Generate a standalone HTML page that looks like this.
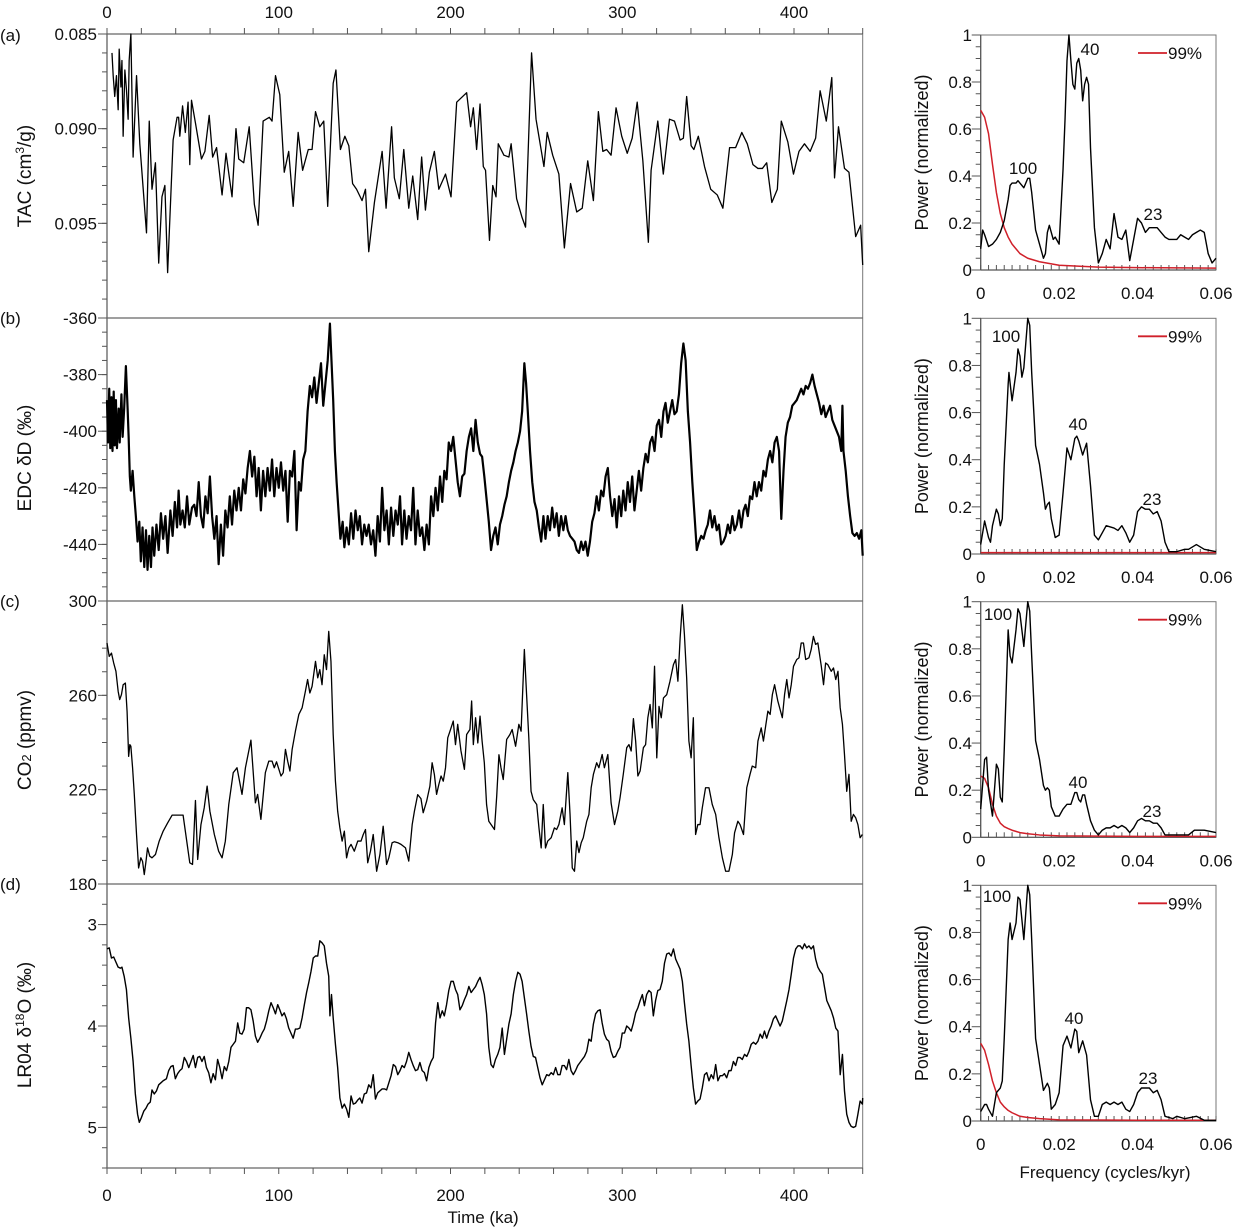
<!DOCTYPE html>
<html><head><meta charset="utf-8">
<style>
html,body{margin:0;padding:0;background:#fff;}
svg{display:block;font-family:"Liberation Sans",Arial,sans-serif;}
</style></head>
<body>
<svg id="chart" width="1236" height="1231" viewBox="0 0 1236 1231" xmlns="http://www.w3.org/2000/svg"></svg>
<script>
// ---------- DATA: time series (time in ka) ----------
const tacTime=[2.9,3.6,4.5,5.5,6.5,7.1,8.1,8.7,9.4,10.4,11.3,12.3,12.9,13.9,15.2,17.2,19.1,23.0,24.6,26.2,28.2,30.1,32.0,33.7,35.3,38.5,40.8,41.7,42.4,44.0,45.6,47.2,48.2,49.2,51.5,55.0,57.0,59.5,61.5,63.8,67.0,69.3,72.8,75.1,76.7,79.6,82.8,85.8,88.0,90.9,94.5,96.1,98.1,100.6,103.2,105.8,108.4,111.3,113.9,117.2,119.4,121.4,123.9,126.2,128.5,131.7,133.3,135.9,138.5,140.8,143.0,145.3,148.5,150.5,152.4,155.7,160.2,162.5,165.7,167.3,170.2,172.8,175.7,178.0,180.9,183.2,185.4,187.7,190.6,193.2,197.1,200.3,203.6,209.4,211.7,213.3,215.2,217.2,219.1,220.4,222.7,224.6,226.5,227.8,231.1,234.0,235.3,238.5,241.7,243.7,247.2,249.8,254.4,256.3,259.5,263.1,266.3,269.9,273.5,276.7,279.9,283.2,286.1,288.7,290.9,293.5,296.4,299.7,302.9,305.8,308.7,312.0,315.2,316.8,320.7,323.9,327.5,330.4,333.7,335.6,337.5,340.1,341.7,344.3,347.9,351.5,355.3,358.6,362.5,366.0,369.6,372.8,376.1,379.0,381.6,384.1,387.1,390.3,392.6,396.4,399.7,402.9,406.1,409.4,412.6,415.2,418.8,422.0,423.6,425.9,429.4,432.0,435.9,438.8,440];
// TAC values in units of 1e-3 cm3/g
const tacValue=[86.0,87.2,88.3,87.2,89.0,85.8,87.8,86.4,90.4,86.9,87.9,89.5,86.4,85.0,91.5,87.2,90.8,95.5,89.6,93.2,91.8,97.1,93.6,93.0,97.6,90.6,89.4,89.4,90.4,88.8,90.2,88.6,91.9,88.5,89.7,91.6,91.2,89.3,91.5,91.0,93.5,91.3,93.6,90.0,91.6,91.8,89.9,94.0,95.1,89.6,89.4,89.6,87.2,88.2,92.3,91.2,94.1,90.2,92.2,91.1,91.1,89.1,89.9,89.6,94.1,87.6,86.9,91.1,90.4,90.9,92.9,93.2,93.8,93.2,96.5,93.9,91.2,94.2,89.9,92.6,93.7,91.1,94.2,92.5,94.8,91.5,94.3,92.3,91.2,93.2,92.4,93.6,88.6,88.1,89.9,88.9,91.1,88.7,92.0,92.2,95.9,93.0,93.6,90.8,91.4,91.5,90.8,93.7,94.7,95.2,86.0,89.5,92.0,90.2,91.4,92.4,96.3,92.9,94.4,94.2,91.7,93.8,89.1,91.2,91.1,91.4,88.9,90.4,91.3,90.5,88.6,91.7,96.0,92.2,89.6,92.4,89.5,89.6,90.6,90.5,88.3,90.9,91.1,90.4,92.0,93.2,93.5,94.2,91.0,91.0,90.2,90.8,91.9,92.1,92.1,91.8,93.9,93.2,89.6,90.7,92.4,91.2,90.8,91.2,90.5,88.0,89.6,87.3,92.6,89.9,92.1,92.3,95.7,95.1,97.2];

const edcTime=[0,0.6,1.3,1.9,2.6,3.2,3.9,4.5,5.2,5.8,6.8,7.4,8.4,9.1,10.0,11.0,12.0,12.6,13.3,13.9,14.9,15.9,16.8,17.8,18.8,19.7,20.7,21.7,22.7,23.6,24.6,25.6,26.5,27.5,28.8,30.1,31.4,32.7,34.0,35.3,36.9,38.2,39.5,40.8,41.7,42.7,44.0,45.3,46.6,47.9,49.5,50.8,52.1,53.4,54.7,56.0,57.3,58.6,59.9,61.2,62.5,63.8,65.0,66.3,67.6,68.9,70.2,71.5,72.8,74.1,75.4,76.7,78.0,79.3,80.6,81.9,83.2,84.5,85.8,87.1,88.3,89.6,90.9,92.2,93.5,94.8,96.1,97.4,98.7,100.0,101.3,102.6,103.9,105.2,106.5,107.8,109.1,110.4,111.7,112.9,114.2,115.5,116.8,118.1,119.4,120.7,122.0,123.3,124.6,125.9,127.2,128.5,129.8,130.7,131.7,132.7,133.7,135.0,135.9,137.2,138.2,139.5,140.8,142.1,143.4,144.7,146.0,147.2,148.5,149.8,151.1,152.4,153.7,155.0,156.3,157.6,158.9,160.2,161.5,162.8,164.1,165.4,166.7,168.0,169.3,170.6,171.8,173.1,174.4,175.7,177.0,178.3,179.6,180.9,182.2,183.5,184.8,186.1,187.4,188.7,190.0,191.3,192.6,193.9,195.2,196.4,197.7,199.0,200.3,201.6,202.9,204.2,205.5,206.8,208.1,209.4,210.7,212.0,213.3,214.6,215.9,217.2,218.4,219.7,221.0,222.3,223.6,224.9,226.2,227.5,228.8,230.1,231.4,232.7,234.0,235.3,236.6,237.9,239.2,240.5,241.7,243.0,244.0,245.0,246.3,247.6,248.9,250.2,251.5,252.8,254.1,255.3,256.6,257.9,259.2,260.5,261.8,263.1,264.4,265.7,267.0,268.3,269.6,270.9,272.2,273.5,274.8,276.1,277.3,278.6,279.9,281.2,282.5,283.8,285.1,286.4,287.7,289.0,290.3,291.6,292.9,294.2,295.5,296.8,298.1,299.4,300.6,301.9,303.2,304.5,305.8,307.1,308.4,309.7,311.0,312.3,313.6,314.9,316.2,317.5,318.8,320.1,321.4,322.7,324.0,325.2,326.5,327.8,329.1,330.4,331.7,333.0,334.3,335.6,336.9,338.2,339.5,340.8,342.1,343.4,344.7,346.0,347.3,348.6,349.8,351.1,352.4,353.7,355.0,356.3,357.6,358.9,360.2,361.5,362.8,364.1,365.4,366.7,368.0,369.3,370.6,371.8,373.1,374.4,375.7,377.0,378.3,379.6,380.9,382.2,383.5,384.8,386.1,387.4,388.7,390.0,391.3,392.6,393.9,395.1,396.4,397.7,399.0,400.3,401.6,402.9,404.2,405.5,406.8,408.1,409.4,410.7,412.0,413.3,414.6,415.9,417.2,418.4,419.7,421.0,422.3,423.6,424.9,426.2,427.5,428.2,428.8,430.1,431.4,432.7,434.0,435.3,436.6,437.9,439.2,440];
const edcValue=[-389,-404,-385,-406,-388,-407,-386,-405,-389,-406,-392,-404,-387,-402,-392,-377,-392,-402,-416,-421,-414,-423,-430,-439,-432,-446,-434,-448,-435,-449,-437,-448,-434,-444,-433,-442,-429,-438,-430,-443,-428,-437,-425,-434,-421,-433,-428,-434,-423,-433,-427,-426,-430,-418,-430,-434,-423,-429,-416,-430,-438,-430,-447,-433,-444,-428,-434,-423,-433,-421,-428,-420,-428,-417,-422,-413,-407,-416,-409,-423,-413,-428,-414,-423,-413,-421,-410,-423,-413,-420,-411,-421,-414,-432,-414,-416,-407,-435,-418,-421,-410,-407,-393,-384,-388,-381,-390,-383,-376,-391,-383,-375,-362,-375,-389,-407,-418,-430,-438,-432,-441,-434,-440,-429,-438,-428,-435,-430,-440,-433,-437,-433,-440,-435,-444,-430,-439,-420,-435,-428,-440,-427,-437,-428,-433,-423,-440,-428,-438,-430,-435,-420,-440,-428,-437,-434,-442,-433,-440,-423,-430,-420,-428,-416,-425,-414,-417,-404,-407,-402,-410,-418,-423,-416,-415,-407,-402,-399,-407,-396,-404,-408,-409,-416,-424,-432,-442,-437,-434,-440,-433,-430,-426,-423,-418,-414,-411,-407,-404,-400,-393,-376,-383,-393,-407,-418,-425,-428,-434,-439,-430,-438,-430,-435,-427,-434,-429,-437,-430,-435,-430,-435,-437,-438,-439,-442,-443,-439,-442,-439,-444,-439,-432,-429,-423,-428,-421,-423,-416,-413,-423,-430,-424,-434,-423,-430,-421,-428,-418,-425,-416,-428,-421,-414,-421,-413,-408,-411,-404,-402,-407,-398,-396,-402,-393,-390,-397,-393,-389,-394,-393,-387,-376,-369,-375,-393,-404,-418,-430,-442,-439,-437,-438,-435,-433,-428,-434,-430,-435,-433,-440,-439,-437,-433,-436,-430,-435,-433,-428,-434,-428,-426,-430,-423,-424,-418,-423,-418,-421,-414,-416,-410,-407,-411,-404,-402,-407,-431,-414,-402,-397,-395,-391,-390,-389,-387,-385,-387,-384,-385,-383,-380,-384,-387,-390,-394,-391,-395,-393,-391,-396,-398,-400,-402,-407,-391,-407,-414,-423,-430,-436,-437,-436,-438,-435,-444];

const co2Time=[0,1.3,2.6,3.9,5.2,6.5,7.4,8.4,9.4,10.7,11.7,12.6,13.3,13.9,14.9,15.9,17.2,18.4,19.7,20.7,21.7,22.7,23.6,24.9,26.2,28.2,30.4,32.7,35.3,37.9,41.7,44.3,48.2,49.8,51.5,52.8,54.7,56.6,58.3,59.9,62.5,65.0,67.0,68.9,70.9,73.5,75.7,78.6,80.6,83.8,86.4,87.7,89.6,92.2,94.2,96.1,97.4,98.7,101.3,102.6,103.9,105.2,106.5,107.8,109.7,111.7,113.6,115.5,116.8,118.1,119.4,121.4,122.7,123.9,125.2,126.5,127.8,129.1,130.4,131.7,133.0,134.3,135.6,136.9,138.2,139.5,140.8,142.1,144.0,146.0,147.9,149.2,150.5,151.8,153.4,155.0,157.0,158.9,160.8,162.8,164.1,166.0,167.3,169.3,171.2,173.8,175.7,177.7,179.0,180.9,182.8,184.1,186.1,188.0,189.3,190.6,191.9,193.2,194.5,195.8,197.1,198.4,199.7,201.6,202.9,204.2,206.1,208.1,209.4,211.3,212.3,213.3,214.6,215.9,217.2,218.4,219.7,221.0,222.3,224.3,225.6,226.9,228.2,229.4,230.7,232.7,234.6,235.9,237.9,239.8,241.1,243.0,244.3,245.6,246.9,248.2,250.2,251.5,252.8,254.0,255.3,256.6,258.6,260.5,261.8,263.1,265.0,266.3,268.3,269.6,270.9,272.2,273.5,274.8,276.1,277.3,279.3,280.6,281.9,283.2,285.1,286.4,288.3,289.6,291.6,293.5,295.5,297.4,298.7,300.6,302.6,303.9,305.2,306.5,307.8,309.1,310.4,312.3,313.6,314.9,316.2,317.5,318.8,320.1,321.4,322.7,324.0,325.9,327.8,329.8,331.1,332.4,333.7,335.0,336.2,337.5,338.8,340.1,341.4,342.7,344.0,345.3,346.6,348.5,350.5,352.4,354.4,356.3,358.3,360.2,362.1,364.1,365.4,367.3,368.6,370.6,372.5,374.4,375.7,377.7,379.0,380.9,382.2,383.5,384.8,386.1,387.4,388.7,390.6,393.2,394.5,395.8,397.1,398.4,399.7,401.6,402.9,404.2,405.5,406.8,408.7,410.0,411.3,412.6,413.9,415.9,417.2,418.4,419.7,421.7,423.0,424.3,425.6,426.9,428.2,429.4,430.7,432.0,433.3,434.6,435.9,437.2,438.5,439.8];
const co2Value=[282.2,276.5,277.9,273.7,270.2,261.7,258.2,260.3,264.5,265.2,253.1,234.1,239.1,238.4,229.2,217.9,200.9,186.8,191.1,189.6,184.0,189.6,195.3,191.8,191.1,192.5,198.2,202.4,205.9,209.2,209.2,209.2,189.0,188.3,215.4,190.4,205.2,212.3,221.5,210.9,201.0,193.9,191.1,198.2,213.7,227.2,229.3,218.0,229.3,241.0,214.4,218.0,207.4,227.2,232.1,232.1,229.3,231.8,225.8,227.2,237.1,232.1,227.9,237.1,244.8,251.9,254.7,261.7,266.7,261.0,263.8,274.4,267.4,270.9,264.5,277.2,270.9,287.1,274.4,243.4,223.6,210.9,203.8,198.2,202.4,191.1,195.3,196.8,193.9,198.2,198.2,201.0,203.1,189.0,193.9,201.0,185.4,192.5,204.5,188.3,191.1,197.5,197.9,197.5,196.8,195.3,189.7,205.2,210.9,217.9,216.2,210.2,215.1,221.5,231.4,226.5,218.0,222.2,225.8,223.6,229.3,242.0,244.8,249.1,239.1,247.7,236.4,228.6,243.4,245.5,257.6,239.1,250.5,239.8,251.2,240.6,231.4,213.7,206.6,204.5,203.1,217.2,234.8,229.3,224.3,241.3,243.4,245.5,238.4,247.7,244.8,279.4,260.3,241.9,219.3,215.8,213.7,203.8,195.3,213.7,195.3,198.2,199.6,203.8,203.1,205.2,212.3,205.2,227.2,209.5,186.8,185.4,198.2,193.3,197.5,199.6,206.6,209.5,220.8,226.5,231.4,229.3,234.9,229.3,234.9,214.4,205.2,210.9,216.5,226.5,237.8,239.1,236.4,250.1,240.6,225.8,227.9,237.8,239.1,250.5,256.1,246.2,272.3,233.5,255.3,250.5,258.9,260.3,266.0,273.0,275.2,266.0,284.3,298.4,285.7,267.4,240.6,233.5,250.5,201.0,205.2,205.2,212.3,220.8,220.8,213.7,209.5,199.6,191.1,185.4,185.4,192.5,201.7,206.6,205.2,201.0,220.8,226.5,230.0,229.3,240.6,246.2,240.6,247.0,253.3,251.9,260.3,264.5,257.5,250.5,260.3,266.7,258.9,264.5,272.3,275.2,275.9,282.2,282.2,275.2,275.9,279.4,285.0,281.6,282.2,272.3,264.5,273.7,273.0,270.2,271.6,266.7,270.2,254.7,247.7,234.9,219.3,226.5,206.6,209.5,208.1,205.2,199.6,201.0];

const lr04Time=[0,1.3,2.6,3.9,5.2,6.5,7.8,8.7,10.0,11.3,12.6,13.9,15.2,16.5,17.8,18.8,20.1,21.4,22.7,23.9,25.2,26.2,27.5,28.8,30.1,31.4,32.7,34.6,35.9,37.2,38.5,39.8,41.1,42.4,43.7,45.0,46.3,47.6,48.9,50.2,51.5,52.8,54.0,55.3,56.6,57.9,59.2,60.5,61.8,63.1,64.4,65.7,67.0,68.3,69.6,70.9,72.2,73.5,74.8,76.1,77.3,78.6,79.9,81.2,82.5,83.8,85.1,86.4,87.7,89.0,90.3,91.6,92.9,94.2,95.5,96.8,98.1,99.4,100.6,101.9,103.2,104.5,105.8,107.1,108.4,109.7,111.0,112.3,113.6,114.9,116.2,117.5,118.8,120.1,121.4,122.7,123.9,125.2,126.5,127.8,129.1,129.8,130.7,131.7,133.0,134.3,135.6,136.9,138.2,139.5,140.8,142.1,143.4,144.7,146.0,147.2,148.5,149.8,151.1,152.4,153.7,155.0,156.3,157.6,158.9,160.2,161.5,162.8,164.1,165.4,166.7,168.0,169.3,170.6,171.8,173.1,174.4,175.7,177.0,178.3,179.6,180.9,182.2,183.5,184.8,186.1,187.4,188.7,190.0,191.3,192.6,193.9,195.2,196.4,197.7,199.0,200.3,201.6,202.9,204.2,205.5,206.8,208.1,209.4,210.7,212.0,213.3,214.6,215.9,217.2,218.4,219.7,221.0,222.3,223.6,224.9,226.2,227.5,228.8,230.1,231.4,232.7,234.0,235.3,236.6,237.9,239.2,240.5,241.7,243.0,244.3,245.6,246.9,248.2,249.5,250.8,252.1,253.4,254.7,256.0,257.3,258.6,259.9,261.2,262.5,263.8,265.0,266.3,267.6,268.9,270.2,271.5,272.8,274.1,275.4,276.7,278.0,279.3,280.6,281.9,283.2,284.5,285.8,287.1,288.3,289.6,290.9,292.2,293.5,294.8,296.1,297.4,298.7,300.0,301.3,302.6,303.9,305.2,306.5,307.8,309.1,310.4,311.7,312.9,314.2,315.5,316.8,318.1,319.4,320.7,322.0,323.3,324.6,325.9,327.2,328.5,329.8,331.1,332.4,333.7,335.0,336.2,337.5,338.8,340.1,341.4,342.7,344.0,345.3,346.6,347.9,349.2,350.5,351.8,353.1,354.4,355.7,357.0,358.3,359.5,360.8,362.1,363.4,364.7,366.0,367.3,368.6,369.9,371.2,372.5,373.8,375.1,376.4,377.7,379.0,380.3,381.6,382.8,384.1,385.4,386.7,388.0,389.3,390.6,391.9,393.2,394.5,395.8,397.1,398.4,399.7,401.0,402.3,403.6,404.9,406.1,407.4,408.7,410.0,411.3,412.6,413.9,415.2,416.5,417.8,419.1,420.4,421.7,423.0,424.3,425.6,426.9,428.2,429.4,430.7,432.0,433.3,434.6,435.9,437.2,438.5,439.8,440];
const lr04Value=[3.24,3.23,3.33,3.32,3.37,3.42,3.43,3.42,3.51,3.64,3.92,4.12,4.35,4.67,4.87,4.95,4.90,4.84,4.81,4.77,4.75,4.63,4.67,4.64,4.58,4.56,4.54,4.52,4.44,4.40,4.39,4.52,4.47,4.44,4.42,4.31,4.35,4.41,4.35,4.29,4.41,4.31,4.30,4.35,4.30,4.41,4.46,4.56,4.47,4.53,4.33,4.41,4.52,4.40,4.44,4.35,4.21,4.18,4.15,3.97,4.07,4.08,4.03,3.82,3.82,3.84,3.95,4.10,4.16,4.12,4.07,4.03,3.95,3.85,3.77,3.82,3.88,3.79,3.84,3.90,3.87,3.93,4.02,4.07,4.12,4.03,4.03,4.02,3.92,3.79,3.67,3.57,3.46,3.33,3.31,3.31,3.16,3.18,3.21,3.38,3.51,3.90,3.69,3.92,4.18,4.41,4.71,4.81,4.77,4.82,4.90,4.69,4.77,4.76,4.73,4.71,4.76,4.67,4.66,4.58,4.61,4.48,4.72,4.66,4.64,4.62,4.62,4.63,4.56,4.49,4.38,4.40,4.48,4.44,4.39,4.41,4.35,4.26,4.33,4.39,4.44,4.43,4.36,4.44,4.46,4.54,4.41,4.35,4.31,3.97,3.77,3.92,3.85,3.90,3.79,3.65,3.56,3.56,3.64,3.69,3.84,3.80,3.74,3.69,3.61,3.67,3.64,3.61,3.56,3.52,3.59,3.69,3.88,4.21,4.38,4.41,4.33,4.28,4.21,4.02,4.28,4.13,3.98,3.88,3.69,3.56,3.47,3.49,3.56,3.72,3.88,4.05,4.20,4.30,4.31,4.41,4.51,4.58,4.53,4.48,4.49,4.46,4.48,4.41,4.48,4.48,4.39,4.39,4.43,4.33,4.44,4.48,4.44,4.39,4.36,4.33,4.30,4.25,4.13,4.15,3.98,3.88,3.85,3.84,3.97,4.08,4.13,4.15,4.25,4.31,4.30,4.25,4.21,4.07,4.07,4.00,4.02,4.05,3.97,3.87,3.82,3.75,3.69,3.80,3.69,3.65,3.67,3.90,3.75,3.65,3.64,3.56,3.38,3.29,3.28,3.31,3.24,3.34,3.39,3.44,3.56,3.77,3.98,4.15,4.39,4.61,4.77,4.74,4.72,4.61,4.48,4.46,4.54,4.48,4.52,4.38,4.54,4.49,4.49,4.47,4.51,4.44,4.44,4.35,4.39,4.31,4.31,4.33,4.28,4.30,4.25,4.18,4.16,4.18,4.15,4.08,4.12,4.05,4.12,4.05,4.00,3.93,3.90,3.95,4.00,3.95,3.85,3.75,3.64,3.49,3.33,3.24,3.21,3.21,3.24,3.19,3.23,3.21,3.24,3.21,3.34,3.42,3.46,3.49,3.62,3.75,3.80,3.85,3.92,4.02,4.05,4.48,4.28,4.64,4.87,4.95,4.99,5.00,4.99,4.87,4.74,4.77,4.71];

// ---------- DATA: spectra ----------
const specFreqA=[0,0.0005,0.001,0.002,0.003,0.004,0.005,0.006,0.007,0.0075,0.008,0.009,0.0095,0.010,0.011,0.012,0.0125,0.013,0.014,0.015,0.016,0.0165,0.017,0.0175,0.018,0.0185,0.019,0.020,0.021,0.0215,0.022,0.0225,0.023,0.0235,0.024,0.0245,0.025,0.0255,0.026,0.0265,0.027,0.0275,0.028,0.029,0.030,0.031,0.032,0.033,0.034,0.035,0.036,0.037,0.038,0.039,0.040,0.041,0.042,0.043,0.044,0.045,0.046,0.047,0.048,0.049,0.050,0.051,0.052,0.053,0.054,0.055,0.056,0.057,0.058,0.059,0.060];
const specPowA=[0.09,0.17,0.15,0.10,0.11,0.13,0.16,0.21,0.30,0.36,0.37,0.37,0.38,0.37,0.35,0.39,0.39,0.33,0.17,0.11,0.05,0.07,0.16,0.19,0.16,0.13,0.14,0.11,0.43,0.64,0.89,1.0,0.89,0.79,0.77,0.88,0.90,0.85,0.72,0.79,0.82,0.79,0.52,0.18,0.03,0.07,0.13,0.09,0.24,0.14,0.13,0.17,0.04,0.13,0.22,0.20,0.16,0.18,0.18,0.18,0.16,0.14,0.13,0.13,0.13,0.15,0.14,0.13,0.15,0.16,0.17,0.16,0.07,0.03,0.05];
const specFreqB=[0,0.001,0.002,0.0025,0.003,0.004,0.0045,0.005,0.0055,0.006,0.007,0.0072,0.008,0.009,0.0095,0.010,0.0105,0.011,0.012,0.0125,0.013,0.014,0.015,0.016,0.0165,0.017,0.0175,0.018,0.019,0.020,0.021,0.022,0.023,0.024,0.0245,0.025,0.026,0.027,0.028,0.029,0.030,0.031,0.032,0.034,0.035,0.036,0.037,0.038,0.039,0.040,0.041,0.042,0.043,0.044,0.045,0.046,0.047,0.048,0.050,0.052,0.053,0.055,0.057,0.060];
const specPowB=[0.04,0.14,0.07,0.05,0.12,0.19,0.17,0.12,0.15,0.38,0.72,0.77,0.65,0.77,0.87,0.84,0.75,0.79,1.0,0.97,0.77,0.46,0.38,0.26,0.19,0.21,0.22,0.15,0.07,0.08,0.26,0.45,0.40,0.49,0.50,0.48,0.42,0.47,0.29,0.08,0.06,0.09,0.12,0.11,0.10,0.12,0.09,0.05,0.08,0.18,0.20,0.19,0.19,0.17,0.18,0.14,0.05,0.01,0.01,0.02,0.02,0.04,0.02,0.01];
const specFreqC=[0,0.001,0.0015,0.002,0.003,0.004,0.0045,0.005,0.0055,0.006,0.007,0.0075,0.008,0.009,0.0095,0.010,0.011,0.012,0.0125,0.013,0.014,0.015,0.016,0.0165,0.017,0.0175,0.018,0.019,0.020,0.021,0.022,0.023,0.024,0.0245,0.025,0.0255,0.026,0.0265,0.027,0.028,0.029,0.030,0.031,0.032,0.033,0.034,0.035,0.036,0.037,0.038,0.039,0.040,0.041,0.042,0.043,0.044,0.045,0.046,0.047,0.050,0.053,0.0545,0.057,0.060];
const specPowC=[0.12,0.33,0.34,0.20,0.09,0.31,0.29,0.17,0.15,0.37,0.88,0.77,0.74,0.88,0.97,0.95,0.81,1.0,0.96,0.77,0.41,0.33,0.22,0.20,0.21,0.20,0.13,0.09,0.09,0.12,0.14,0.14,0.19,0.19,0.16,0.15,0.18,0.18,0.14,0.07,0.03,0.01,0.03,0.04,0.04,0.05,0.04,0.05,0.04,0.02,0.04,0.07,0.08,0.07,0.07,0.06,0.06,0.04,0.01,0.01,0.01,0.03,0.03,0.02];
const specFreqD=[0,0.001,0.0015,0.002,0.003,0.004,0.005,0.0055,0.006,0.007,0.0075,0.008,0.009,0.0095,0.010,0.011,0.012,0.0125,0.013,0.014,0.015,0.016,0.017,0.0175,0.018,0.019,0.020,0.021,0.022,0.023,0.024,0.0245,0.025,0.026,0.027,0.028,0.029,0.030,0.031,0.032,0.033,0.034,0.035,0.036,0.037,0.038,0.039,0.040,0.041,0.042,0.043,0.044,0.045,0.046,0.047,0.049,0.050,0.052,0.055,0.057,0.060];
const specPowD=[0.04,0.07,0.07,0.05,0.02,0.12,0.14,0.17,0.35,0.77,0.84,0.77,0.84,0.95,0.94,0.77,1.0,0.96,0.77,0.35,0.24,0.13,0.16,0.14,0.05,0.07,0.12,0.32,0.36,0.31,0.39,0.38,0.29,0.34,0.28,0.09,0.02,0.02,0.07,0.08,0.07,0.08,0.07,0.08,0.05,0.04,0.07,0.12,0.14,0.14,0.14,0.12,0.13,0.09,0.02,0.01,0.02,0.01,0.02,0.003,0.003];
const sigFreq=[0,0.001,0.002,0.003,0.004,0.005,0.006,0.007,0.008,0.010,0.012,0.015,0.020,0.030,0.040,0.060];
const sigA=[0.68,0.65,0.58,0.45,0.33,0.24,0.18,0.14,0.11,0.07,0.05,0.035,0.02,0.012,0.01,0.008];
const sigB=[0.006,0.006,0.006,0.006,0.006,0.006,0.006,0.006,0.006,0.006,0.006,0.006,0.006,0.006,0.006,0.006];
const sigC=[0.26,0.25,0.21,0.14,0.09,0.06,0.045,0.037,0.03,0.02,0.015,0.01,0.006,0.005,0.004,0.004];
const sigD=[0.33,0.30,0.24,0.17,0.12,0.08,0.06,0.045,0.035,0.02,0.015,0.01,0.005,0.004,0.003,0.003];

// ---------- tick labels ----------
const timeTicks=[0,100,200,300,400];
const tacTicks=[85,90,95];
const tacTickLabels=["0.085","0.090","0.095"];
const edcTicks=[-360,-380,-400,-420,-440];
const co2Ticks=[300,260,220,180];
const lrTicks=[3,4,5];
const powTicks=[0,0.2,0.4,0.6,0.8,1];
const powTickLabels=["0","0.2","0.4","0.6","0.8","1"];
const freqTicks=[0,0.02,0.04,0.06];
const freqTickLabels=["0","0.02","0.04","0.06"];

// ---------- layout ----------
const NS="http://www.w3.org/2000/svg";
const svg=document.getElementById('chart');
const LX0=107, LX1=862.7, TMAX=440;
const panels=[{top:34,bot:318},{top:318,bot:601},{top:601,bot:884},{top:884,bot:1168}];
const RX0=980.7, RX1=1216;
const rpanels=[{top:35,bot:270},{top:318.3,bot:554},{top:601.7,bot:837.3},{top:885.3,bot:1121}];
function xT(t){return LX0+t/TMAX*(LX1-LX0);}
function lin(v,d0,d1,p0,p1){return p0+(v-d0)/(d1-d0)*(p1-p0);}
const yScales=[
 v=>lin(v,85,100,panels[0].top,panels[0].bot),
 v=>lin(v,-360,-460,panels[1].top,panels[1].bot),
 v=>lin(v,300,180,panels[2].top,panels[2].bot),
 v=>lin(v,2.6,5.4,panels[3].top,panels[3].bot)
];
function xF(f){return RX0+f/0.06*(RX1-RX0);}
function yP(i,p){return lin(p,0,1,rpanels[i].bot,rpanels[i].top);}

function mk(tag,attrs,parent){const e=document.createElementNS(NS,tag);for(const k in attrs)e.setAttribute(k,attrs[k]);(parent||svg).appendChild(e);return e;}
function txt(s,x,y,size,anchor,parent){const e=mk('text',{x:x,y:y,'font-size':size,'text-anchor':anchor||'start',fill:'#111'},parent);e.textContent=s;return e;}
function path(xs,ys,fx,fy,color,w,parent){let d='';const n=Math.min(xs.length,ys.length);for(let i=0;i<n;i++){d+=(i?'L':'M')+fx(xs[i]).toFixed(2)+','+fy(ys[i]).toFixed(2);}return mk('path',{d:d,fill:'none',stroke:color,'stroke-width':w,'stroke-linejoin':'round'},parent);}

// ---------- left panels frame ----------
const frame=mk('g',{});


mk('line',{x1:LX0,y1:panels[0].top,x2:LX0,y2:panels[3].bot,stroke:'#555','stroke-width':1.2},frame);
mk('line',{x1:LX1,y1:panels[0].top,x2:LX1,y2:panels[3].bot,stroke:'#777','stroke-width':1},frame);
[34,318,601,884,1168].forEach(y=>mk('line',{x1:LX0,y1:y,x2:LX1,y2:y,stroke:'#666','stroke-width':1.2},frame));
for(let t=0;t<=440;t+=20){const x=xT(t);
 mk('line',{x1:x,y1:34,x2:x,y2:28,stroke:'#555','stroke-width':1},frame);
 mk('line',{x1:x,y1:1168,x2:x,y2:1174,stroke:'#555','stroke-width':1},frame);}
const topAx=mk('g',{});


const botAx=mk('g',{});


timeTicks.forEach(t=>{txt(String(t),xT(t),18,17,'middle',topAx);txt(String(t),xT(t),1201,17,'middle',botAx);});
const tTitle=txt('Time (ka)',xT(219),1223,17,'middle');



function yTicks(i,majors,labels,minorStep,lo,hi){
 const g=mk('g',{});
 
 
 const f=yScales[i];
 if(minorStep){for(let v=lo;v<=hi+1e-9;v+=minorStep){const y=f(v);mk('line',{x1:LX0-5,y1:y,x2:LX0,y2:y,stroke:'#555','stroke-width':1},g);}}
 majors.forEach((v,k)=>{const y=f(v);mk('line',{x1:LX0-9,y1:y,x2:LX0,y2:y,stroke:'#555','stroke-width':1},g);if(labels[k]!==null)txt(labels[k],97,y+6,17,'end',g);});
}
yTicks(0,tacTicks,tacTickLabels,1,85,100);
yTicks(1,edcTicks,edcTicks.map(String),5,-460,-360);
yTicks(2,co2Ticks,co2Ticks.map(String),10,180,300);
yTicks(3,lrTicks,lrTicks.map(String),0.2,2.6,5.4);

['(a)','(b)','(c)','(d)'].forEach((s,i)=>{const e=txt(s,0,[41,324,607,890][i],17,'start');
 
 });
function vTitle(html,cx,cy,name){const e=mk('text',{x:0,y:0,'font-size':19,'text-anchor':'middle',fill:'#111',transform:'translate('+cx+','+cy+') rotate(-90)'});e.innerHTML=html;
 
 return e;}
vTitle('TAC (cm<tspan font-size="12" dy="-7">3</tspan><tspan dy="7">/g)</tspan>',31,176,'y-axis-title-tac');
vTitle('EDC δD (‰)',31,458,'y-axis-title-edc');
vTitle('CO<tspan font-size="13">2</tspan> (ppmv)',31,740,'y-axis-title-co2');
vTitle('LR04 δ<tspan font-size="12" dy="-7">18</tspan><tspan dy="7">O (‰)</tspan>',31,1025,'y-axis-title-lr04');

const sA=path(tacTime,tacValue,xT,yScales[0],'#000',1.3);


const sB=path(edcTime,edcValue,xT,yScales[1],'#000',2.2);


const sC=path(co2Time,co2Value,xT,yScales[2],'#000',1.3);


const sD=path(lr04Time,lr04Value,xT,yScales[3],'#000',1.4);



// ---------- spectra panels ----------
const specF=[specFreqA,specFreqB,specFreqC,specFreqD];
const specP=[specPowA,specPowB,specPowC,specPowD];
const sigs=[sigA,sigB,sigC,sigD];
const peakNames=["100","40","23"];
const peakPos=[[[1023,174],[1090,55],[1153,220]],[[1006,342],[1078,430],[1152,505]],[[998,620],[1078,788],[1152,817]],[[997,902],[1074,1024],[1148,1084]]];
rpanels.forEach((p,i)=>{
 const g=mk('g',{});
 
 
 mk('rect',{x:RX0,y:p.top,width:RX1-RX0,height:p.bot-p.top,fill:'none',stroke:'#777','stroke-width':1},g);
 mk('line',{x1:RX0,y1:p.top,x2:RX0,y2:p.bot,stroke:'#555','stroke-width':1.2},g);
 mk('line',{x1:RX0,y1:p.bot,x2:RX1,y2:p.bot,stroke:'#555','stroke-width':1.2},g);
 for(let v=0;v<=1.0001;v+=0.05){const y=yP(i,v);mk('line',{x1:RX0-(Math.abs(v*5-Math.round(v*5))<1e-6?9:5),y1:y,x2:RX0,y2:y,stroke:'#555','stroke-width':1},g);}
 for(let f=0;f<=0.06001;f+=0.002){const x=xF(f);mk('line',{x1:x,y1:p.bot,x2:x,y2:p.bot-5,stroke:'#555','stroke-width':1},g);}
 powTicks.forEach((v,k)=>txt(powTickLabels[k],972,yP(i,v)+6,17,'end',g));
 freqTicks.forEach((v,k)=>txt(freqTickLabels[k],xF(v),p.bot+29,17,'middle',g));
 const t=mk('text',{x:0,y:0,'font-size':18,'text-anchor':'middle',fill:'#111',transform:'translate(928,'+((p.top+p.bot)/2)+') rotate(-90)'},g);t.textContent='Power (normalized)';
 const sig=path(sigFreq,sigs[i],xF,v=>yP(i,v),'#d0202a',1.5,g);
 
 
 const sp=path(specF[i],specP[i],xF,v=>yP(i,v),'#000',1.4,g);
 
 
 peakNames.forEach((s,k)=>{txt(s,peakPos[i][k][0],peakPos[i][k][1],17,'middle',g);});
 const lg=mk('g',{},g);
 
 
 const ly=p.top+18;
 mk('line',{x1:1138,y1:ly,x2:1167,y2:ly,stroke:'#d0202a','stroke-width':1.8},lg);
 txt('99%',1168,ly+6,17,'start',lg);
});
const fT=txt('Frequency (cycles/kyr)',1105,1178,17,'middle');


</script>
</body></html>
